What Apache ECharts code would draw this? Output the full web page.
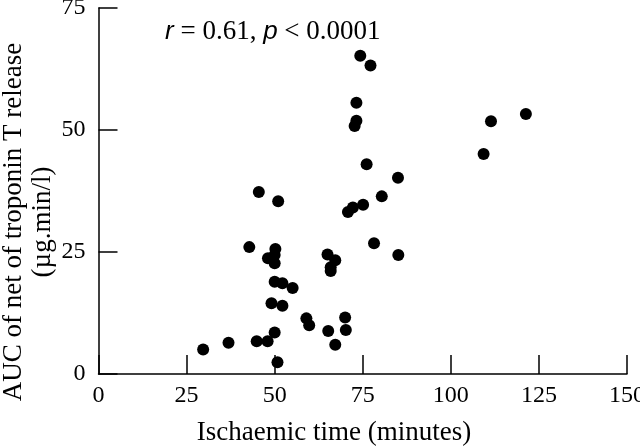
<!DOCTYPE html>
<html>
<head>
<meta charset="utf-8">
<script src="https://cdn.jsdelivr.net/npm/echarts@6/dist/echarts.min.js"></script>
<style>html,body{margin:0;padding:0;background:#fff}#c{width:640px;height:448px}</style>
</head>
<body>
<div id="c"></div>
<script>
// Ischaemic time (minutes)
var ischaemicTime = [29.7, 36.9, 44.9, 48.0, 50.0, 50.8, 45.5, 51.0, 42.8, 50.2, 50.0, 48.1, 50.0, 50.0, 52.2, 55.1, 49.1, 52.2, 59.0, 59.8, 65.2, 67.2, 70.0, 70.2, 65.0, 67.2, 65.9, 65.9, 70.8, 72.2, 75.1, 78.2, 85.1, 80.4, 85.0, 76.1, 72.7, 73.2, 73.2, 74.3, 77.2, 109.3, 111.4, 121.3];
// AUC of net of troponin T release (µg.min/l)
var aucTroponin = [5.0, 6.4, 6.7, 6.7, 8.5, 2.4, 37.3, 35.4, 26.0, 25.6, 24.4, 23.7, 22.7, 18.9, 18.6, 17.6, 14.5, 14.0, 11.4, 10.0, 8.8, 6.0, 11.6, 9.0, 24.5, 23.3, 21.9, 21.1, 33.2, 34.1, 34.7, 26.8, 24.4, 36.4, 40.2, 43.0, 50.8, 51.9, 55.6, 65.2, 63.2, 45.1, 51.8, 53.3];
var xTicks = [0, 25, 50, 75, 100, 125, 150];
var yTicks = [0, 25, 50, 75];
var xTitle = 'Ischaemic time (minutes)';
var yTitle1 = 'AUC of net of troponin T release';
var yTitle2 = '(µg.min/l)';

var pts = ischaemicTime.map(function (x, i) { return [x, aucTroponin[i]]; });
var serif = '"Liberation Serif", "DejaVu Serif", serif';
var chart = echarts.init(document.getElementById('c'));
chart.setOption({
  animation: false,
  backgroundColor: '#fff',
  grid: { left: 98.5, right: 13, top: 8, bottom: 74, outerBoundsMode: 'none', containLabel: false },
  xAxis: {
    type: 'value', min: xTicks[0], max: xTicks[xTicks.length - 1], interval: 25,
    axisLine: { lineStyle: { color: '#000', width: 1.5 } },
    axisTick: { inside: true, length: 19, lineStyle: { color: '#000', width: 1.5 } },
    axisLabel: { color: '#000', fontFamily: serif, fontSize: 24, margin: 10 },
    splitLine: { show: false }
  },
  yAxis: {
    type: 'value', min: yTicks[0], max: yTicks[yTicks.length - 1], interval: 25,
    axisLine: { lineStyle: { color: '#000', width: 1.5 } },
    axisTick: { inside: true, length: 19, lineStyle: { color: '#000', width: 1.5 } },
    axisLabel: { color: '#000', fontFamily: serif, fontSize: 24, margin: 13 },
    splitLine: { show: false }
  },
  title: {
    left: 160, top: 13,
    text: '{i|r}{t| = 0.61, }{i|p}{t| < 0.0001}',
    textStyle: {
      fontWeight: 'normal',
      rich: {
        i: { fontFamily: '"Liberation Sans", Arial, sans-serif', fontStyle: 'italic', fontWeight: 'normal', fontSize: 26, color: '#000' },
        t: { fontFamily: serif, fontWeight: 'normal', fontSize: 27, color: '#000' }
      }
    }
  },
  graphic: [
    { type: 'text', x: 334, y: 433, style: { text: xTitle, font: '27px ' + serif, fill: '#000', textAlign: 'center', textVerticalAlign: 'middle' } },
    { type: 'text', x: 14, y: 222, rotation: Math.PI / 2, style: { text: yTitle1, font: '27px ' + serif, fill: '#000', textAlign: 'center', textVerticalAlign: 'middle' } },
    { type: 'text', x: 43, y: 222, rotation: Math.PI / 2, style: { text: yTitle2, font: '27px ' + serif, fill: '#000', textAlign: 'center', textVerticalAlign: 'middle' } }
  ],
  series: [{
    type: 'scatter', data: pts, symbol: 'circle', symbolSize: 12,
    itemStyle: { color: '#000', opacity: 1 }
  }]
});
</script>
</body>
</html>
